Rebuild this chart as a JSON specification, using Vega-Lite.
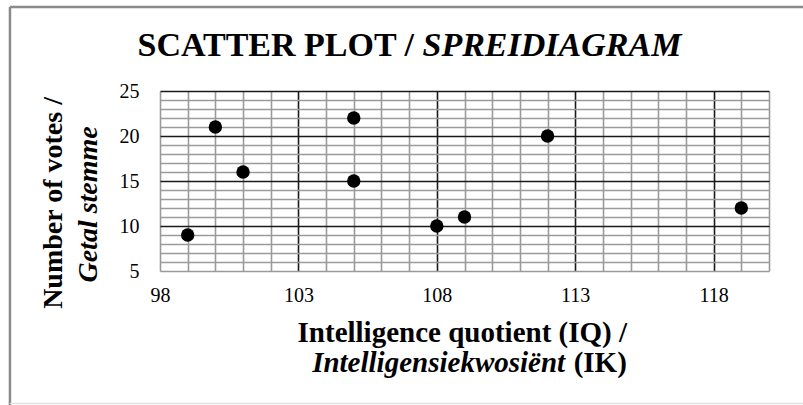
{
  "$schema": "https://vega.github.io/schema/vega-lite/v6.json",
  "width": 609,
  "height": 180,
  "autosize": {"type": "none"},
  "padding": {"left": 160, "top": 91, "right": 34, "bottom": 134},
  "background": "white",
  "config": {"view": {"stroke": null}, "font": "Liberation Serif"},
  "layer": [
    {
      "data": {"values": [
        {"iq": 99, "votes": 9}, {"iq": 100, "votes": 21}, {"iq": 101, "votes": 16},
        {"iq": 105, "votes": 22}, {"iq": 105, "votes": 15}, {"iq": 108, "votes": 10},
        {"iq": 109, "votes": 11}, {"iq": 112, "votes": 20}, {"iq": 119, "votes": 12}
      ]},
      "mark": {"type": "circle", "color": "black", "opacity": 1, "size": 180},
      "encoding": {
        "x": {
          "field": "iq", "type": "quantitative",
          "scale": {"domain": [98, 120], "nice": false, "zero": false},
          "axis": {
            "title": null, "domain": false, "ticks": false, "tickCount": 100, "format": "d",
            "values": [98,99,100,101,102,103,104,105,106,107,108,109,110,111,112,113,114,115,116,117,118,119,120],
            "labelExpr": "(datum.value - 98) % 5 === 0 && datum.value < 120 ? datum.label : ''",
            "labelFont": "Liberation Serif", "labelFontSize": 20, "labelColor": "black",
            "labelPadding": 14, "labelOverlap": false, "labelFlush": false,
            "grid": true,
            "gridColor": {"condition": {"test": "datum.value > 98 && datum.value < 120 && (datum.value - 98) % 5 === 0", "value": "#1a1a1a"}, "value": "#9a9a9a"},
            "gridWidth": 1.6, "gridOpacity": 1
          }
        },
        "y": {
          "field": "votes", "type": "quantitative",
          "scale": {"domain": [5, 25], "nice": false, "zero": false},
          "axis": {
            "title": null, "domain": false, "ticks": false, "tickCount": 100, "format": "d",
            "values": [5,5.5,6,6.5,7,7.5,8,8.5,9,9.5,10,10.5,11,11.5,12,12.5,13,13.5,14,14.5,15,15.5,16,16.5,17,17.5,18,18.5,19,19.5,20,20.5,21,21.5,22,22.5,23,23.5,24,24.5,25],
            "labelExpr": "datum.value % 5 === 0 ? datum.label : ''",
            "labelFont": "Liberation Serif", "labelFontSize": 20, "labelColor": "black",
            "labelPadding": 21, "labelOverlap": false, "labelFlush": false,
            "grid": true,
            "gridColor": {"condition": {"test": "datum.value > 5 && datum.value % 5 === 0", "value": "#1a1a1a"}, "value": "#9a9a9a"},
            "gridWidth": 1.6, "gridOpacity": 1
          }
        }
      }
    },
    {
      "data": {"values": [{"label": "SCATTER PLOT /"}]},
      "mark": {"type": "text", "font": "Liberation Serif", "fontSize": 34, "fontWeight": "bold", "align": "right", "baseline": "alphabetic", "dx": -4, "color": "black"},
      "encoding": {"text": {"field": "label"}, "x": {"datum": 107.32, "type": "quantitative", "scale": {"domain": [98, 120], "nice": false, "zero": false}}, "y": {"datum": 28.89, "type": "quantitative", "scale": {"domain": [5, 25], "nice": false, "zero": false}}}
    },
    {
      "data": {"values": [{"label": "SPREIDIAGRAM"}]},
      "mark": {"type": "text", "font": "Liberation Serif", "fontSize": 34, "fontWeight": "bold", "fontStyle": "italic", "align": "left", "baseline": "alphabetic", "dx": 4.5, "color": "black"},
      "encoding": {"text": {"field": "label"}, "x": {"datum": 107.32, "type": "quantitative", "scale": {"domain": [98, 120], "nice": false, "zero": false}}, "y": {"datum": 28.89, "type": "quantitative", "scale": {"domain": [5, 25], "nice": false, "zero": false}}}
    },
    {
      "data": {"values": [{"label": "Intelligence quotient (IQ) /"}]},
      "mark": {"type": "text", "font": "Liberation Serif", "fontSize": 29, "fontWeight": "bold", "align": "center", "baseline": "alphabetic", "color": "black"},
      "encoding": {"text": {"field": "label"}, "x": {"datum": 108.92, "type": "quantitative", "scale": {"domain": [98, 120], "nice": false, "zero": false}}, "y": {"datum": -2.89, "type": "quantitative", "scale": {"domain": [5, 25], "nice": false, "zero": false}}}
    },
    {
      "data": {"values": [{"label": "Intelligensiekwosiënt"}]},
      "mark": {"type": "text", "font": "Liberation Serif", "fontSize": 29, "fontWeight": "bold", "fontStyle": "italic", "align": "right", "baseline": "alphabetic", "dx": -4, "color": "black"},
      "encoding": {"text": {"field": "label"}, "x": {"datum": 112.78, "type": "quantitative", "scale": {"domain": [98, 120], "nice": false, "zero": false}}, "y": {"datum": -6.22, "type": "quantitative", "scale": {"domain": [5, 25], "nice": false, "zero": false}}}
    },
    {
      "data": {"values": [{"label": "(IK)"}]},
      "mark": {"type": "text", "font": "Liberation Serif", "fontSize": 29, "fontWeight": "bold", "align": "left", "baseline": "alphabetic", "dx": 4.5, "color": "black"},
      "encoding": {"text": {"field": "label"}, "x": {"datum": 112.78, "type": "quantitative", "scale": {"domain": [98, 120], "nice": false, "zero": false}}, "y": {"datum": -6.22, "type": "quantitative", "scale": {"domain": [5, 25], "nice": false, "zero": false}}}
    },
    {
      "data": {"values": [{"label": "Number of votes /"}]},
      "mark": {"type": "text", "font": "Liberation Serif", "fontSize": 28, "fontWeight": "bold", "align": "center", "baseline": "alphabetic", "angle": 270, "color": "black"},
      "encoding": {"text": {"field": "label"}, "x": {"datum": 94.46, "type": "quantitative", "scale": {"domain": [98, 120], "nice": false, "zero": false}}, "y": {"datum": 12.56, "type": "quantitative", "scale": {"domain": [5, 25], "nice": false, "zero": false}}}
    },
    {
      "data": {"values": [{"label": "Getal stemme"}]},
      "mark": {"type": "text", "font": "Liberation Serif", "fontSize": 28, "fontWeight": "bold", "fontStyle": "italic", "align": "center", "baseline": "alphabetic", "angle": 270, "color": "black"},
      "encoding": {"text": {"field": "label"}, "x": {"datum": 95.71, "type": "quantitative", "scale": {"domain": [98, 120], "nice": false, "zero": false}}, "y": {"datum": 12.4, "type": "quantitative", "scale": {"domain": [5, 25], "nice": false, "zero": false}}}
    },
    {
      "data": {"values": [{"edge": "left"}]},
      "mark": {"type": "rule", "color": "#8a8a8a", "strokeWidth": 2.5, "clip": false},
      "encoding": {"x": {"datum": 92.58, "type": "quantitative", "scale": {"domain": [98, 120], "nice": false, "zero": false}}, "y": {"datum": 34.33, "type": "quantitative", "scale": {"domain": [5, 25], "nice": false, "zero": false}}, "y2": {"datum": -10}}
    },
    {
      "data": {"values": [{"edge": "top"}]},
      "mark": {"type": "rule", "color": "#8a8a8a", "strokeWidth": 2.5, "clip": false},
      "encoding": {"y": {"datum": 34.33, "type": "quantitative", "scale": {"domain": [5, 25], "nice": false, "zero": false}}, "x": {"datum": 92.58, "type": "quantitative", "scale": {"domain": [98, 120], "nice": false, "zero": false}}, "x2": {"datum": 121.6}}
    },
    {
      "data": {"values": [{"edge": "bottom"}]},
      "mark": {"type": "rule", "color": "#e2e2e2", "strokeWidth": 1.5, "clip": false},
      "encoding": {"y": {"datum": -9.72, "type": "quantitative", "scale": {"domain": [5, 25], "nice": false, "zero": false}}, "x": {"datum": 92.58, "type": "quantitative", "scale": {"domain": [98, 120], "nice": false, "zero": false}}, "x2": {"datum": 121.6}}
    }
  ]
}
